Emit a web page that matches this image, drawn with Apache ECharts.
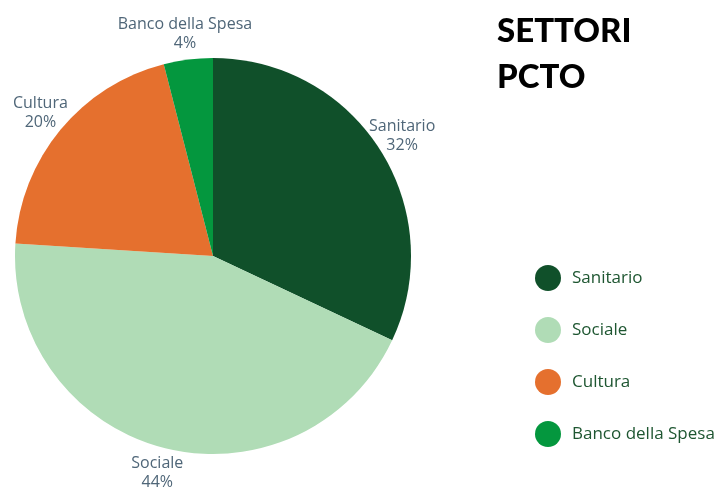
<!DOCTYPE html>
<html>
<head>
<meta charset="utf-8">
<script src="https://cdn.jsdelivr.net/npm/echarts@6/dist/echarts.min.js"></script>
<style>
  html, body { margin: 0; padding: 0; background: #fff; }
  #chart { width: 718px; height: 490px; }
</style>
</head>
<body>
<div id="chart"></div>
<script>
// settori e percentuali
const sectors = ['Sanitario', 'Sociale', 'Cultura', 'Banco della Spesa'];
const shares = [32, 44, 20, 4];
const sectorColors = ['#10502a', '#b0dcb6', '#e5702e', '#04973e'];

const pieData = sectors.map((name, i) => ({
  name: name,
  value: shares[i],
  itemStyle: { color: sectorColors[i] },
}));

const chart = echarts.init(document.getElementById('chart'));

chart.setOption({
  animation: false,
  title: {
    text: 'SETTORI\nPCTO',
    left: 492,
    top: 3,
    textStyle: {
      fontFamily: 'Lato',
      fontWeight: 900,
      fontSize: 33,
      lineHeight: 46,
      color: '#000',
    },
  },
  legend: {
    orient: 'vertical',
    left: 530,
    top: 260,
    icon: 'circle',
    itemWidth: 26,
    itemHeight: 26,
    itemGap: 26,
    data: sectors,
    textStyle: {
      fontFamily: 'Open Sans',
      fontSize: 17,
      color: '#1e5631',
      padding: [0, 0, 0, 6],
    },
  },
  series: [
    {
      type: 'pie',
      center: [213, 256],
      radius: 198,
      startAngle: 90,
      clockwise: true,
      label: { show: false },
      labelLine: { show: false },
      emphasis: { disabled: true },
      data: pieData,
    },
    {
      // anello invisibile solo per le etichette centrate
      type: 'pie',
      center: [213, 256],
      radius: [213, 229],
      startAngle: 90,
      clockwise: true,
      silent: true,
      legendHoverLink: false,
      itemStyle: { color: 'rgba(0,0,0,0)' },
      label: {
        show: true,
        position: 'inside',
        formatter: '{b}\n{c}%',
        fontFamily: 'Open Sans',
        fontSize: 16,
        lineHeight: 19,
        color: '#4f6678',
        align: 'center',
      },
      labelLine: { show: false },
      emphasis: { disabled: true },
      data: sectors.map((name, i) => ({ name: name, value: shares[i] })),
    },
  ],
});
</script>
</body>
</html>
